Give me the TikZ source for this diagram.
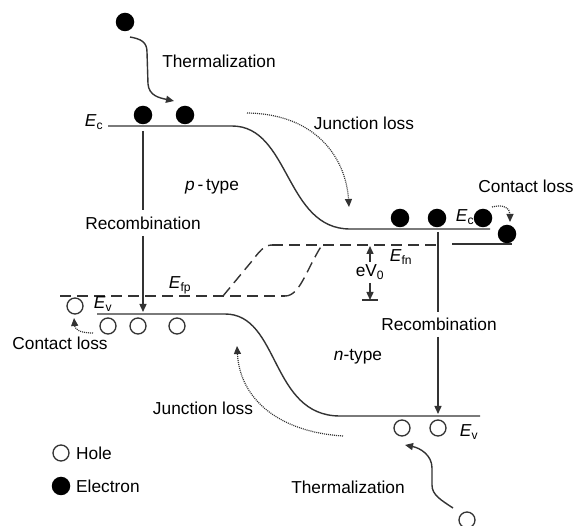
\documentclass[tikz,border=0pt]{standalone}
\usepackage{fontspec}
\setmainfont{Liberation Sans}
\usetikzlibrary{arrows.meta}
\definecolor{band}{HTML}{333333}
\begin{document}
\begin{tikzpicture}[x=1pt,y=-1pt,
  font=\fontsize{17.3}{20}\selectfont,
  elec/.style={circle,fill=black,inner sep=0pt,minimum size=18.5pt},
  hole/.style={circle,draw=band,line width=1.3pt,fill=white,inner sep=0pt,minimum size=16pt},
  bandline/.style={draw=band,line width=1.4pt},
  fermi/.style={draw=band,line width=1.4pt,dash pattern=on 11pt off 6pt},
  tip/.style={-{Triangle[length=8pt,width=7pt]}},
  dotarrow/.style={draw=band,line width=1.2pt,dash pattern=on 1pt off 1pt,-{Triangle[length=8pt,width=7pt]}},
  lbl/.style={inner sep=1pt}
]
\useasboundingbox (0,0) rectangle (576,526);

% ---------- bands ----------
\coordinate (ecL) at (108,126);
\coordinate (ecK) at (232,126);
\coordinate (ecN) at (350,229);
\coordinate (ecR) at (490,229);
\draw[bandline] (ecL) -- (ecK) .. controls (290,126) and (285,229) .. (ecN) -- (ecR);

\coordinate (evL) at (97,314);
\coordinate (evK) at (225,314);
\coordinate (evN) at (340,416);
\coordinate (evR) at (480,416);
\draw[bandline] (evL) -- (evK) .. controls (280,314) and (270,416) .. (evN) -- (evR);

% ---------- quasi Fermi levels ----------
\coordinate (fpL) at (60,296);
\coordinate (fpA) at (223,296);
\coordinate (fpB) at (285,296);
\coordinate (fnA) at (272,245);
\coordinate (fnB) at (322,245);
\coordinate (fnR) at (436,245);
\coordinate (fsA) at (452,244);
\coordinate (fsB) at (512,244);
\draw[fermi] (fpL) -- (fpB);
\draw[fermi] (fpA) -- (252,261) .. controls (259,252) and (264,245) .. (fnA);
\draw[fermi] (fpB) .. controls (300,296) and (306,270) .. (fnB);
\draw[fermi] (fnA) -- (fnR);
\draw[bandline] (fsA) -- (fsB);

% ---------- particles ----------
\node[elec] (e0) at (125,22) {};
\node[elec] (e1) at (143,115) {};
\node[elec] (e2) at (185,115) {};
\node[elec] (e3) at (400,218) {};
\node[elec] (e4) at (437,218) {};
\node[elec] (e5) at (483,218) {};
\node[elec] (e6) at (507,234) {};

\node[hole] (h0) at (75,306) {};
\node[hole] (h1) at (108,326) {};
\node[hole] (h2) at (138,326) {};
\node[hole] (h3) at (177,326) {};
\node[hole] (h4) at (402,428) {};
\node[hole] (h5) at (438,428) {};
\node[hole] (h6) at (467,520) {};

% ---------- labels ----------
\node[lbl] (tTop) at (219,61) {Thermalization};
\node[lbl] (ecl) at (94,122) {\textit{E}\textsubscript{c}};
\node[lbl] (ptype) at (212,187) {\textit{p}\,-\,type};
\node[lbl] (recL) at (143,223) {Recombination};
\node[lbl] (jTop) at (364,123) {Junction loss};
\node[lbl] (cR) at (526,186) {Contact loss};
\node[lbl] (ecr) at (465,217) {\textit{E}\textsubscript{c}};
\node[lbl] (efn) at (401,257) {\textit{E}\textsubscript{fn}};
\node[lbl] (efp) at (180,285) {\textit{E}\textsubscript{fp}};
\node[lbl] (evl) at (103,304) {\textit{E}\textsubscript{v}};
\node[lbl] (ev0) at (370,272) {eV\textsubscript{0}};
\node[lbl] (cL) at (60,343) {Contact loss};
\node[lbl] (recR) at (439,324) {Recombination};
\node[lbl] (ntype) at (358,357) {\textit{n}-type};
\node[lbl] (jBot) at (203,408) {Junction loss};
\node[lbl] (evr) at (469,432) {\textit{E}\textsubscript{v}};
\node[lbl] (tBot) at (348,487) {Thermalization};

% legend
\node[hole] (lh) at (61,453) {};
\node[elec] (le) at (61,486) {};
\node[lbl,anchor=west] (lht) at (75,453) {Hole};
\node[lbl,anchor=west] (let) at (75,486) {Electron};

% ---------- arrows ----------
% thermalization (top)
\coordinate (t1) at (130,37);
\coordinate (t2) at (174,101);
\draw[bandline,tip] (t1) .. controls (141,39) and (147,42) .. (147,52) -- (148,84) .. controls (149,96) and (160,98) .. (t2);

% recombination left
\coordinate (rl1) at (143,131);
\coordinate (rl2) at (143,210);
\coordinate (rl3) at (143,236);
\coordinate (rl4) at (143,312);
\draw[bandline] (rl1) -- (rl2);
\draw[bandline,tip] (rl3) -- (rl4);

% recombination right
\coordinate (rr1) at (438,232);
\coordinate (rr2) at (438,312);
\coordinate (rr3) at (438,337);
\coordinate (rr4) at (438,414);
\draw[bandline] (rr1) -- (rr2);
\draw[bandline,tip] (rr3) -- (rr4);

% junction loss (top)
\coordinate (j1) at (247,113);
\coordinate (j2) at (349,207);
\draw[dotarrow] (j1) .. controls (318,114) and (346,160) .. (j2);

% contact loss right
\coordinate (c1) at (492,207);
\coordinate (c2) at (510,222);
\draw[dotarrow] (c1) .. controls (503,204) and (510,208) .. (c2);

% eV0
\coordinate (v1) at (370,262);
\coordinate (v2) at (370,246);
\coordinate (v3) at (370,283);
\coordinate (v4) at (370,300);
\draw[bandline,tip] (v1) -- (v2);
\draw[bandline,tip] (v3) -- (v4);
\draw[bandline] (362,300) -- (378,300);

% contact loss left
\coordinate (cl1) at (93,333);
\coordinate (cl2) at (74,318);
\draw[dotarrow] (cl1) .. controls (81,333) and (75,330) .. (cl2);

% junction loss (bottom)
\coordinate (jb1) at (343,436);
\coordinate (jb2) at (237,346);
\draw[dotarrow] (jb1) .. controls (280,432) and (240,400) .. (jb2);

% thermalization (bottom)
\coordinate (tb1) at (453,508);
\coordinate (tb2) at (405,445);
\draw[bandline,tip] (tb1) .. controls (441,500) and (432,495) .. (432,485) -- (432,468) .. controls (432,455) and (420,448) .. (tb2);

\end{tikzpicture}
\end{document}
